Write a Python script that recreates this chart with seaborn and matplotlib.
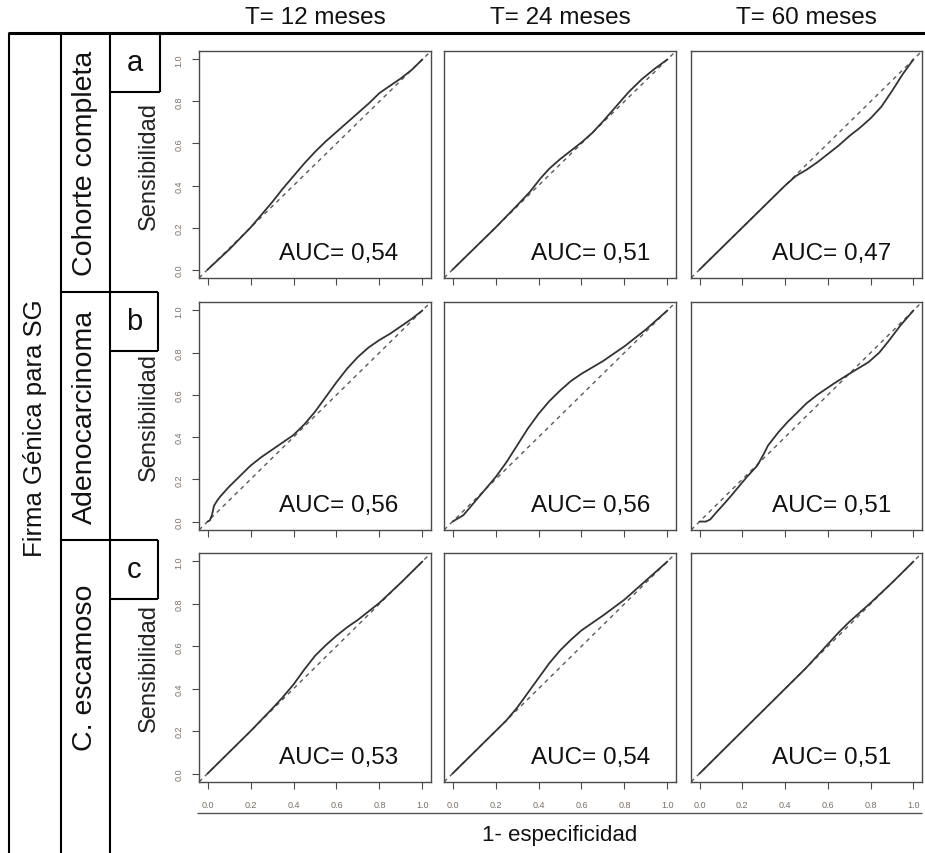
import numpy as np
import pandas as pd
import seaborn as sns
import matplotlib.pyplot as plt
from matplotlib.lines import Line2D

sns.set_style('white')
plt.rcParams['font.family'] = ['Liberation Sans', 'DejaVu Sans']

# ---------------- data ----------------
time_labels = ['T= 12 meses', 'T= 24 meses', 'T= 60 meses']
cohort_labels = ['Cohorte completa', 'Adenocarcinoma', 'C. escamoso']
panel_letters = ['a', 'b', 'c']
auc_values = [[0.54, 0.51, 0.47],
              [0.56, 0.56, 0.51],
              [0.53, 0.54, 0.51]]
tick_values = [0.0, 0.2, 0.4, 0.6, 0.8, 1.0]
tick_labels = ['0.0', '0.2', '0.4', '0.6', '0.8', '1.0']

# ROC curves: 1-especificidad (fpr) vs sensibilidad (tpr)
fpr_a12 = [0, 0.1, 0.2, 0.25, 0.3, 0.35, 0.4, 0.45, 0.5, 0.55, 0.6, 0.65, 0.7, 0.75, 0.8, 0.85, 0.9, 0.95, 1.0]
tpr_a12 = [0, 0.095, 0.2, 0.26, 0.32, 0.385, 0.445, 0.505, 0.56, 0.61, 0.655, 0.7, 0.745, 0.79, 0.84, 0.875, 0.91, 0.95, 1.0]

fpr_a24 = [0, 0.1, 0.2, 0.3, 0.36, 0.41, 0.45, 0.5, 0.55, 0.6, 0.65, 0.7, 0.76, 0.82, 0.88, 0.94, 1.0]
tpr_a24 = [0, 0.1, 0.2, 0.305, 0.37, 0.435, 0.48, 0.525, 0.565, 0.605, 0.65, 0.705, 0.775, 0.845, 0.905, 0.955, 1.0]

fpr_a60 = [0, 0.1, 0.2, 0.3, 0.4, 0.45, 0.5, 0.55, 0.6, 0.65, 0.7, 0.75, 0.8, 0.85, 0.9, 0.95, 1.0]
tpr_a60 = [0, 0.1, 0.2, 0.3, 0.4, 0.445, 0.475, 0.51, 0.55, 0.59, 0.635, 0.675, 0.72, 0.775, 0.85, 0.93, 1.0]

fpr_b12 = [0, 0.01, 0.02, 0.03, 0.045, 0.06, 0.1, 0.15, 0.2, 0.25, 0.3, 0.35, 0.4, 0.45, 0.5, 0.55, 0.6, 0.65, 0.7, 0.75, 0.8, 0.85, 0.9, 0.95, 1.0]
tpr_b12 = [0, 0.005, 0.03, 0.075, 0.1, 0.12, 0.165, 0.215, 0.265, 0.305, 0.34, 0.375, 0.41, 0.46, 0.52, 0.59, 0.66, 0.725, 0.78, 0.825, 0.86, 0.89, 0.925, 0.96, 1.0]

fpr_b24 = [0, 0.05, 0.1, 0.15, 0.2, 0.25, 0.3, 0.35, 0.4, 0.45, 0.5, 0.55, 0.6, 0.65, 0.7, 0.8, 0.9, 1.0]
tpr_b24 = [0, 0.03, 0.09, 0.15, 0.21, 0.28, 0.36, 0.44, 0.51, 0.57, 0.62, 0.665, 0.7, 0.73, 0.76, 0.83, 0.91, 1.0]

fpr_b60 = [0, 0.03, 0.05, 0.08, 0.12, 0.15, 0.22, 0.27, 0.3, 0.32, 0.37, 0.41, 0.45, 0.5, 0.55, 0.63, 0.7, 0.79, 0.84, 0.88, 0.94, 1.0]
tpr_b60 = [0, 0.0, 0.01, 0.045, 0.09, 0.125, 0.21, 0.265, 0.32, 0.36, 0.425, 0.47, 0.51, 0.56, 0.6, 0.655, 0.7, 0.755, 0.8, 0.85, 0.93, 1.0]

fpr_c12 = [0, 0.1, 0.2, 0.3, 0.35, 0.4, 0.45, 0.5, 0.55, 0.6, 0.65, 0.7, 0.8, 0.9, 1.0]
tpr_c12 = [0, 0.1, 0.2, 0.305, 0.36, 0.42, 0.49, 0.555, 0.605, 0.65, 0.69, 0.725, 0.805, 0.9, 1.0]

fpr_c24 = [0, 0.1, 0.2, 0.25, 0.3, 0.35, 0.4, 0.45, 0.5, 0.55, 0.6, 0.65, 0.7, 0.8, 0.9, 1.0]
tpr_c24 = [0, 0.1, 0.2, 0.25, 0.31, 0.38, 0.45, 0.52, 0.58, 0.63, 0.675, 0.71, 0.745, 0.82, 0.91, 1.0]

fpr_c60 = [0, 0.1, 0.2, 0.3, 0.4, 0.5, 0.55, 0.6, 0.65, 0.7, 0.75, 0.8, 0.9, 1.0]
tpr_c60 = [0, 0.1, 0.2, 0.3, 0.4, 0.5, 0.555, 0.61, 0.665, 0.715, 0.76, 0.805, 0.9, 1.0]

curves = [[(fpr_a12, tpr_a12), (fpr_a24, tpr_a24), (fpr_a60, tpr_a60)],
          [(fpr_b12, tpr_b12), (fpr_b24, tpr_b24), (fpr_b60, tpr_b60)],
          [(fpr_c12, tpr_c12), (fpr_c24, tpr_c24), (fpr_c60, tpr_c60)]]

# ---------------- layout ----------------
W, H = 925, 854
fig = plt.figure(figsize=(W / 100, H / 100), dpi=100)

col_px = [(199, 431), (444, 676), (691, 922)]
row_px = [(52, 279), (303, 531), (554, 783)]
auc_xfrac = [0.60, 0.63, 0.61]

def fx(px):
    return px / W

def fy(py):
    return 1 - py / H

def seg(x0, y0, x1, y1, lw=1.5, color='black'):
    fig.add_artist(Line2D([fx(x0), fx(x1)], [fy(y0), fy(y1)],
                          transform=fig.transFigure, lw=lw, color=color,
                          solid_capstyle='butt'))

tick_color = '#7a6f66'
frame_color = '#4a4a4a'

for r in range(3):
    for c in range(3):
        x0, x1 = col_px[c]
        y0, y1 = row_px[r]
        ax = fig.add_axes([fx(x0), fy(y1), (x1 - x0) / W, (y1 - y0) / H])
        fpr, tpr = curves[r][c]
        ax.axline((0, 0), (1, 1), color='#5a5a5a', lw=1.0, ls=(0, (3, 3)))
        sns.lineplot(x=fpr, y=tpr, ax=ax, sort=False, estimator=None,
                     color='#333333', lw=1.3)
        ax.set_xlim(-0.04, 1.04)
        ax.set_ylim(-0.04, 1.04)
        for s in ax.spines.values():
            s.set_visible(True)
            s.set_color(frame_color)
            s.set_linewidth(1.0)
        ax.set_xticks(tick_values)
        ax.tick_params(axis='x', direction='out', length=5, width=0.8,
                       color=frame_color, pad=8, labelsize=6.5,
                       labelcolor=tick_color, bottom=True)
        if r == 2:
            ax.set_xticklabels(tick_labels)
        else:
            ax.set_xticklabels([])
        if c == 0:
            ax.set_yticks(tick_values)
            ax.set_yticklabels(tick_labels, rotation=90, va='center')
            ax.tick_params(axis='y', direction='out', length=5, width=0.8,
                           color=frame_color, pad=6, labelsize=6.5,
                           labelcolor=tick_color, left=True)
            ax.set_ylabel('Sensibilidad', fontsize=17, color='#222222')
            ax.yaxis.set_label_coords(-0.17, 0.5)
        else:
            ax.set_yticks([])
            ax.set_ylabel('')
        ax.set_xlabel('')
        ax.text(auc_xfrac[c], 0.11, f'AUC= {auc_values[r][c]:.2f}'.replace('.', ','),
                transform=ax.transAxes, ha='center', va='center',
                fontsize=17.5, color='#111111')

# column headers
for c in range(3):
    x0, x1 = col_px[c]
    fig.text(fx((x0 + x1) / 2), fy(18), time_labels[c], ha='center',
             va='center', fontsize=17.5, color='#111111')

# frame lines of the table
seg(8, 34, 925, 34, lw=2.2)
for xv in (9, 61, 110):
    seg(xv, 34, xv, 854, lw=1.5)

# letter boxes
box_tops = [34, 293, 541]
box_right = [160, 158, 158]
for i, top in enumerate(box_tops):
    if i > 0:
        seg(61, top, box_right[i], top, lw=1.5)
    seg(box_right[i], top, box_right[i], top + 59, lw=1.5)
    seg(110, top + 59, box_right[i], top + 59, lw=1.5)
    fig.text(fx((110 + box_right[i]) / 2), fy(top + 29), panel_letters[i],
             ha='center', va='center', fontsize=21, color='#111111')

# row labels
row_label_y = [163, 417, 668]
for i, yv in enumerate(row_label_y):
    fig.text(fx(85), fy(yv), cohort_labels[i], rotation=90, ha='center',
             va='center', fontsize=20.5, color='#111111')

fig.text(fx(35), fy(428), 'Firma Génica para SG', rotation=90,
         ha='center', va='center', fontsize=18.5, color='#111111')

# bottom axis title
seg(197, 814, 922, 814, lw=1.0, color='#555555')
fig.text(fx(560), fy(836), '1- especificidad', ha='center', va='center',
         fontsize=16, color='#111111')

fig.savefig('out.png', dpi=100, facecolor='white')
